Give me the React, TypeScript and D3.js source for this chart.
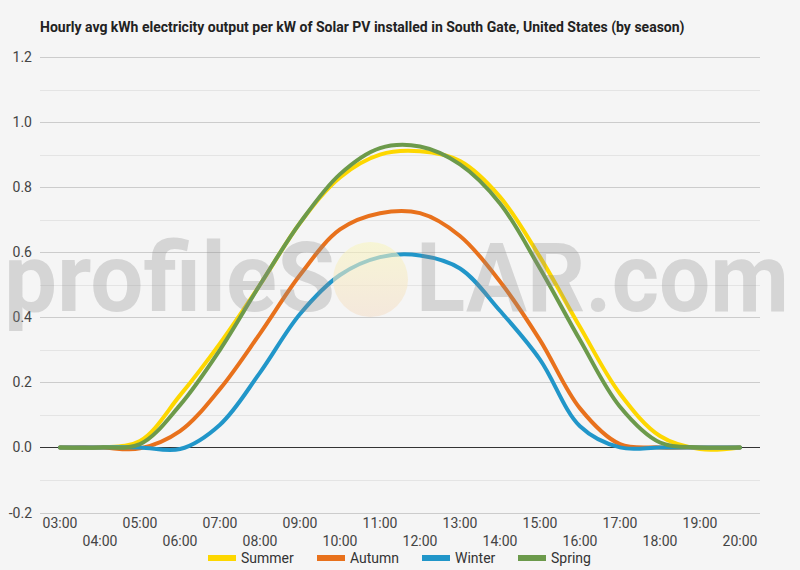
import React, { useEffect, useRef } from 'react';
import * as d3 from 'd3';

const hours = ['03:00', '04:00', '05:00', '06:00', '07:00', '08:00', '09:00', '10:00', '11:00',
  '12:00', '13:00', '14:00', '15:00', '16:00', '17:00', '18:00', '19:00', '20:00'];

const summer = [0, 0, 0.02, 0.16, 0.32, 0.5, 0.69, 0.83, 0.9, 0.91, 0.88, 0.77, 0.585, 0.37, 0.165, 0.035, -0.005, 0];
const autumn = [0, 0, -0.003, 0.05, 0.18, 0.35, 0.53, 0.67, 0.72, 0.72, 0.65, 0.51, 0.33, 0.12, 0.01, 0, 0, 0];
const winter = [0, 0, 0, -0.005, 0.07, 0.23, 0.41, 0.53, 0.585, 0.59, 0.55, 0.42, 0.27, 0.065, 0, 0, 0, 0];
const spring = [0, 0, 0.01, 0.13, 0.3, 0.5, 0.69, 0.84, 0.92, 0.925, 0.87, 0.75, 0.55, 0.33, 0.125, 0.015, 0, 0];

const yTicks = [-0.2, 0, 0.2, 0.4, 0.6, 0.8, 1.0, 1.2];
const yMinor = [-0.1, 0.1, 0.3, 0.5, 0.7, 0.9, 1.1];

const seriesNames = ['Summer', 'Autumn', 'Winter', 'Spring'];
const seriesColors = ['#fdd700', '#e8711c', '#2196c9', '#6c9a4b'];

const title = 'Hourly avg kWh electricity output per kW of Solar PV installed in South Gate, United States (by season)';

const App: React.FC = () => {
  const svgRef = useRef<SVGSVGElement>(null);

  useEffect(() => {
    if (!svgRef.current) return;
    const svg = d3.select(svgRef.current);
    svg.selectAll('*').remove();

    const width = 800;
    const height = 570;
    const margin = { top: 57, right: 40, bottom: 58, left: 40 };

    const x = d3.scaleBand()
      .domain(hours)
      .range([margin.left, width - margin.right]);

    const y = d3.scaleLinear()
      .domain([-0.2, 1.2])
      .range([height - margin.bottom + 0.5, margin.top]);

    const cx = (h: string) => x(h)! + x.bandwidth() / 2;

    svg.attr('width', width).attr('height', height);

    svg.append('rect')
      .attr('width', width)
      .attr('height', height)
      .attr('fill', '#f5f5f5');

    // title
    svg.append('text')
      .attr('x', 40)
      .attr('y', 32)
      .attr('font-family', 'Roboto')
      .attr('font-weight', 'bold')
      .attr('font-size', '14px')
      .attr('fill', '#222')
      .text(title);

    // grid lines
    svg.append('g')
      .selectAll('line')
      .data(yMinor)
      .enter()
      .append('line')
      .attr('x1', margin.left)
      .attr('x2', width - margin.right)
      .attr('y1', d => Math.round(y(d)) + 0.5)
      .attr('y2', d => Math.round(y(d)) + 0.5)
      .attr('stroke', '#e4e4e4');

    svg.append('g')
      .selectAll('line')
      .data(yTicks)
      .enter()
      .append('line')
      .attr('x1', margin.left)
      .attr('x2', width - margin.right)
      .attr('y1', d => Math.round(y(d)) + 0.5)
      .attr('y2', d => Math.round(y(d)) + 0.5)
      .attr('stroke', d => (d === 0 ? '#333' : '#cccccc'));

    // y tick labels
    svg.append('g')
      .selectAll('text')
      .data(yTicks)
      .enter()
      .append('text')
      .attr('x', 32)
      .attr('y', d => y(d) + 5)
      .attr('text-anchor', 'end')
      .attr('font-family', 'Roboto')
      .attr('font-size', '14px')
      .attr('fill', '#444')
      .text(d => d.toFixed(1));

    // x tick labels, alternating rows
    svg.append('g')
      .selectAll('text')
      .data(hours)
      .enter()
      .append('text')
      .attr('x', d => cx(d))
      .attr('y', (d, i) => (i % 2 === 0 ? 528 : 546))
      .attr('text-anchor', 'middle')
      .attr('font-family', 'Roboto')
      .attr('font-size', '14px')
      .attr('fill', '#444')
      .text(d => d);

    // lines
    const allSeries = [summer, autumn, winter, spring];
    const line = d3.line<number>()
      .x((d, i) => cx(hours[i]))
      .y(d => y(d))
      .curve(d3.curveCatmullRom.alpha(0.5));

    svg.append('g')
      .selectAll('path')
      .data(allSeries)
      .enter()
      .append('path')
      .attr('d', d => line(d))
      .attr('fill', 'none')
      .attr('stroke', (d, i) => seriesColors[i])
      .attr('stroke-width', 4)
      .attr('stroke-linejoin', 'round')
      .attr('stroke-linecap', 'round');

    // watermark
    const defs = svg.append('defs');
    const grad = defs.append('linearGradient')
      .attr('id', 'sunGrad')
      .attr('x1', 0).attr('y1', 0).attr('x2', 0).attr('y2', 1);
    grad.append('stop').attr('offset', '0%').attr('stop-color', '#f8f5c0');
    grad.append('stop').attr('offset', '100%').attr('stop-color', '#f4dfcb');

    const wm = svg.append('g').attr('pointer-events', 'none');
    wm.append('text')
      .attr('x', 4)
      .attr('y', 311)
      .attr('font-family', 'Roboto')
      .attr('font-weight', 'bold')
      .attr('font-size', '96px')
      .attr('textLength', 331)
      .attr('lengthAdjust', 'spacingAndGlyphs')
      .attr('fill', 'rgba(140,140,140,0.3)')
      .text('profileS');
    wm.append('circle')
      .attr('cx', 370.5)
      .attr('cy', 279.5)
      .attr('r', 37.5)
      .attr('fill', 'url(#sunGrad)')
      .attr('opacity', 0.6);
    wm.append('text')
      .attr('x', 416)
      .attr('y', 311)
      .attr('font-family', 'Roboto')
      .attr('font-weight', 'bold')
      .attr('font-size', '96px')
      .attr('textLength', 373)
      .attr('lengthAdjust', 'spacingAndGlyphs')
      .attr('fill', 'rgba(140,140,140,0.3)')
      .text('LAR.com');

    // legend
    const legendX = [208, 317, 422, 518];
    const legend = svg.append('g')
      .selectAll('g')
      .data(seriesNames)
      .enter()
      .append('g')
      .attr('transform', (d, i) => `translate(${legendX[i]},558)`);

    legend.append('rect')
      .attr('x', 0)
      .attr('y', -3)
      .attr('width', 28)
      .attr('height', 6)
      .attr('fill', (d, i) => seriesColors[i]);

    legend.append('text')
      .attr('x', 33)
      .attr('y', 5)
      .attr('font-family', 'Roboto')
      .attr('font-size', '14px')
      .attr('fill', '#333')
      .text(d => d);
  }, []);

  return (
    <div style={{ position: 'absolute', left: 0, top: 0 }}>
      <svg ref={svgRef} style={{ display: 'block' }}></svg>
    </div>
  );
};

export default App;
